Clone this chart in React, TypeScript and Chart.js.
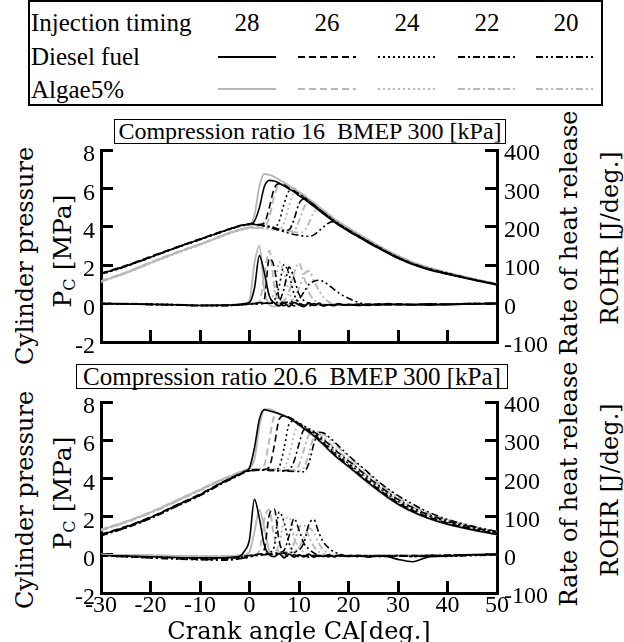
import React, { useEffect, useRef } from "react";
import { Chart, registerables } from "chart.js";

Chart.register(...registerables);

// ---------- data ----------
const angles = [-30, -25, -20, -15, -10, -5, -3, -2, -1, 0, 1, 2, 3, 4, 5, 6, 7, 8, 9, 10, 11, 12, 13, 14, 15, 16, 17, 18, 19, 20, 22, 24, 26, 28, 30, 33, 36, 40, 45, 50];
const timings = ["28", "26", "24", "22", "20"];
const xTickValues = [-30, -20, -10, 0, 10, 20, 30, 40, 50];
const pressureTicks = [-2, 0, 2, 4, 6, 8];
const rohrTicks = [-100, 0, 100, 200, 300, 400];

// Compression ratio 16 : cylinder pressure [MPa]
const p16D28 = [1.55, 1.95, 2.42, 2.9, 3.35, 3.8, 3.97, 4.05, 4.1, 4.15, 4.3, 5.0, 6.1, 6.42, 6.38, 6.27, 6.12, 5.97, 5.82, 5.62, 5.46, 5.26, 5.06, 4.86, 4.66, 4.46, 4.27, 4.09, 3.93, 3.77, 3.47, 3.17, 2.89, 2.62, 2.36, 2.03, 1.78, 1.53, 1.24, 0.97];
const p16A28 = [1.15, 1.6, 2.12, 2.62, 3.08, 3.58, 3.76, 3.84, 3.9, 3.97, 4.6, 6.1, 6.75, 6.7, 6.6, 6.45, 6.3, 6.15, 6.0, 5.82, 5.65, 5.45, 5.25, 5.05, 4.85, 4.65, 4.45, 4.27, 4.1, 3.95, 3.63, 3.33, 3.03, 2.75, 2.5, 2.16, 1.9, 1.62, 1.3, 1.03];
const p16D26 = [1.58, 1.98, 2.45, 2.92, 3.37, 3.82, 3.98, 4.06, 4.11, 4.15, 4.15, 4.12, 4.2, 5.0, 6.0, 6.25, 6.18, 6.03, 5.88, 5.68, 5.52, 5.32, 5.12, 4.92, 4.72, 4.52, 4.32, 4.14, 3.98, 3.82, 3.52, 3.22, 2.94, 2.66, 2.4, 2.07, 1.82, 1.57, 1.27, 1.0];
const p16A26 = [1.18, 1.63, 2.15, 2.65, 3.1, 3.6, 3.78, 3.86, 3.92, 3.97, 3.97, 3.96, 3.98, 4.5, 5.6, 6.2, 6.2, 6.08, 5.92, 5.73, 5.57, 5.37, 5.17, 4.97, 4.77, 4.57, 4.38, 4.2, 4.04, 3.88, 3.58, 3.28, 3.0, 2.72, 2.46, 2.12, 1.87, 1.6, 1.29, 1.02];
const p16D24 = [1.52, 1.93, 2.4, 2.88, 3.33, 3.78, 3.95, 4.03, 4.08, 4.12, 4.13, 4.1, 4.06, 4.02, 3.97, 4.3, 5.2, 5.85, 5.88, 5.72, 5.55, 5.35, 5.14, 4.94, 4.74, 4.54, 4.34, 4.16, 4.0, 3.84, 3.54, 3.24, 2.96, 2.68, 2.42, 2.09, 1.84, 1.58, 1.28, 1.01];
const p16A24 = [1.13, 1.58, 2.1, 2.6, 3.06, 3.56, 3.74, 3.82, 3.88, 3.94, 3.95, 3.94, 3.92, 3.9, 3.88, 3.86, 4.2, 5.1, 5.75, 5.72, 5.57, 5.38, 5.18, 4.98, 4.78, 4.58, 4.39, 4.21, 4.05, 3.89, 3.59, 3.29, 3.0, 2.72, 2.46, 2.12, 1.87, 1.61, 1.3, 1.03];
const p16D22 = [1.56, 1.96, 2.43, 2.9, 3.35, 3.8, 3.96, 4.04, 4.09, 4.13, 4.13, 4.1, 4.06, 4.01, 3.95, 3.88, 3.82, 3.85, 4.4, 5.2, 5.45, 5.35, 5.15, 4.94, 4.73, 4.52, 4.32, 4.14, 3.98, 3.82, 3.52, 3.22, 2.94, 2.66, 2.4, 2.07, 1.82, 1.56, 1.27, 1.0];
const p16A22 = [1.16, 1.61, 2.13, 2.63, 3.09, 3.59, 3.77, 3.85, 3.91, 3.96, 3.97, 3.96, 3.94, 3.91, 3.87, 3.83, 3.79, 3.76, 3.8, 4.3, 5.0, 5.3, 5.15, 4.95, 4.76, 4.56, 4.37, 4.19, 4.03, 3.87, 3.57, 3.27, 2.98, 2.7, 2.44, 2.1, 1.85, 1.59, 1.29, 1.02];
const p16D20 = [1.54, 1.94, 2.41, 2.89, 3.34, 3.79, 3.96, 4.04, 4.09, 4.13, 4.12, 4.09, 4.04, 3.98, 3.9, 3.82, 3.74, 3.66, 3.6, 3.56, 3.52, 3.5, 3.58, 3.78, 4.0, 4.2, 4.27, 4.12, 3.97, 3.81, 3.5, 3.2, 2.92, 2.64, 2.38, 2.05, 1.8, 1.55, 1.25, 0.98];
const p16A20 = [1.14, 1.59, 2.11, 2.61, 3.07, 3.57, 3.75, 3.83, 3.89, 3.94, 3.95, 3.94, 3.92, 3.89, 3.85, 3.81, 3.77, 3.73, 3.72, 3.7, 3.78, 4.2, 4.75, 4.95, 4.8, 4.58, 4.38, 4.2, 4.03, 3.87, 3.57, 3.27, 2.98, 2.7, 2.44, 2.1, 1.85, 1.59, 1.29, 1.02];

// Compression ratio 16 : rate of heat release [J/deg.]
const r16D28 = [0, -1, -2, -3, -5, -4, -3, -2, 0, 3, 40, 125, 80, 20, 2, -6, 2, -8, 3, -3, -8, 2, -5, 0, -6, -3, -5, 0, -4, -2, -5, -2, -4, 0, -3, -2, -4, -2, -1, 0];
const r16A28 = [1, 0, -1, -3, -4, -5, -3, -2, 0, 8, 105, 150, 35, -2, -8, -3, 3, -5, 2, -4, -6, 0, -3, 2, -5, -2, -6, -1, -3, -4, -2, -5, -1, -3, -2, -4, -1, -2, 0, 0];
const r16D26 = [0, -1, -2, -3, -5, -5, -4, -3, -2, -1, 0, 2, 12, 118, 95, 12, -5, 2, -6, 0, -4, -7, 0, -3, -5, -2, -4, -1, -3, -5, -2, -4, -1, -3, -2, -3, -1, -2, 0, 0];
const r16A26 = [1, 0, -2, -3, -4, -4, -3, -2, -2, -1, 0, 5, 75, 138, 45, 0, -6, -2, 3, -4, -6, 1, -3, -4, -2, -5, -1, -3, -4, -2, -3, -1, -4, -2, -3, -1, -2, -1, 0, 0];
const r16D24 = [0, -1, -2, -3, -5, -5, -4, -3, -2, -1, 0, 0, 1, 2, 8, 45, 102, 75, 25, 3, -4, -2, -6, 1, -4, -3, -5, -2, -3, -4, -2, -3, -1, -3, -2, -3, -1, -2, 0, 0];
const r16A24 = [1, 0, -2, -3, -4, -4, -3, -2, -2, -1, 0, 0, 2, 4, 30, 108, 80, 30, 5, -3, -5, 0, -4, -2, -5, -3, -4, -1, -3, -2, -4, -2, -3, -1, -2, -3, -1, -2, 0, 0];
const r16D22 = [0, -1, -2, -4, -5, -5, -4, -3, -2, -1, 0, 0, 1, 1, 2, 6, 40, 95, 65, 25, 8, 0, -4, -2, -5, -3, -4, -2, -3, -4, -2, -3, -2, -3, -1, -3, -2, -2, -1, 0];
const r16A22 = [1, 0, -2, -3, -4, -4, -3, -3, -2, -1, 0, 0, 1, 1, 2, 3, 8, 30, 80, 105, 70, 30, 10, 2, -3, -2, -4, -3, -2, -4, -2, -3, -1, -3, -2, -2, -1, -2, 0, 0];
const r16D20 = [0, -1, -2, -3, -5, -5, -4, -3, -2, -1, 0, 0, 1, 1, 2, 3, 3, 4, 6, 12, 30, 50, 58, 61, 57, 48, 38, 28, 20, 14, 3, -2, -3, -1, -2, -3, -1, -2, 0, 0];
const r16A20 = [0, -1, -2, -3, -4, -4, -3, -3, -2, -1, 0, 0, 1, 1, 2, 2, 3, 6, 15, 40, 75, 85, 60, 35, 15, 5, -2, -3, -4, -2, -3, -2, -3, -1, -2, -3, -1, -2, 0, 0];

// Compression ratio 20.6 : cylinder pressure [MPa]
const p20D28 = [1.05, 1.45, 1.95, 2.55, 3.15, 3.85, 4.1, 4.22, 4.35, 4.55, 5.6, 7.1, 7.6, 7.54, 7.46, 7.38, 7.28, 7.16, 7.0, 6.8, 6.62, 6.43, 6.23, 6.0, 5.76, 5.5, 5.26, 5.03, 4.83, 4.63, 4.2, 3.78, 3.38, 3.0, 2.66, 2.25, 1.93, 1.6, 1.31, 1.06];
const p20A28 = [1.3, 1.72, 2.22, 2.8, 3.4, 4.0, 4.2, 4.32, 4.42, 4.55, 5.0, 6.7, 7.6, 7.62, 7.52, 7.38, 7.27, 7.14, 6.98, 6.78, 6.6, 6.4, 6.2, 5.97, 5.73, 5.47, 5.23, 5.0, 4.8, 4.6, 4.17, 3.75, 3.35, 2.97, 2.63, 2.22, 1.91, 1.59, 1.3, 1.05];
const p20D26 = [1.08, 1.48, 1.98, 2.58, 3.18, 3.87, 4.12, 4.24, 4.36, 4.43, 4.45, 4.46, 4.46, 4.6, 5.7, 7.1, 7.28, 7.2, 7.06, 6.87, 6.69, 6.5, 6.3, 6.07, 5.83, 5.57, 5.33, 5.1, 4.9, 4.7, 4.27, 3.85, 3.45, 3.07, 2.73, 2.32, 1.99, 1.66, 1.35, 1.1];
const p20A26 = [1.32, 1.74, 2.24, 2.82, 3.42, 4.02, 4.22, 4.33, 4.43, 4.5, 4.5, 4.5, 4.7, 6.0, 7.25, 7.35, 7.28, 7.18, 7.03, 6.84, 6.66, 6.47, 6.27, 6.04, 5.8, 5.54, 5.3, 5.07, 4.87, 4.67, 4.24, 3.82, 3.42, 3.04, 2.7, 2.29, 1.97, 1.64, 1.34, 1.09];
const p20D24 = [1.03, 1.43, 1.93, 2.53, 3.13, 3.83, 4.08, 4.2, 4.33, 4.41, 4.44, 4.45, 4.45, 4.45, 4.44, 4.6, 5.6, 6.85, 7.0, 6.9, 6.74, 6.56, 6.37, 6.15, 5.92, 5.66, 5.42, 5.19, 4.99, 4.79, 4.36, 3.94, 3.54, 3.15, 2.8, 2.38, 2.05, 1.71, 1.4, 1.14];
const p20A24 = [1.28, 1.7, 2.2, 2.78, 3.38, 3.98, 4.19, 4.31, 4.41, 4.49, 4.5, 4.5, 4.49, 4.48, 4.47, 4.46, 4.55, 5.2, 6.3, 6.85, 6.75, 6.57, 6.38, 6.16, 5.93, 5.68, 5.44, 5.21, 5.01, 4.81, 4.38, 3.96, 3.56, 3.17, 2.82, 2.4, 2.07, 1.73, 1.41, 1.15];
const p20D22 = [1.0, 1.4, 1.9, 2.5, 3.1, 3.8, 4.05, 4.18, 4.31, 4.39, 4.42, 4.43, 4.43, 4.42, 4.41, 4.4, 4.4, 4.45, 4.9, 5.8, 6.55, 6.6, 6.45, 6.25, 6.04, 5.8, 5.56, 5.33, 5.12, 4.92, 4.5, 4.06, 3.65, 3.26, 2.9, 2.47, 2.12, 1.77, 1.44, 1.17];
const p20A22 = [1.27, 1.69, 2.19, 2.77, 3.37, 3.97, 4.18, 4.3, 4.4, 4.48, 4.49, 4.49, 4.48, 4.47, 4.46, 4.45, 4.44, 4.43, 4.42, 4.7, 5.5, 6.3, 6.5, 6.35, 6.12, 5.88, 5.64, 5.4, 5.19, 4.98, 4.55, 4.11, 3.7, 3.3, 2.94, 2.5, 2.15, 1.8, 1.47, 1.19];
const p20D20 = [1.02, 1.42, 1.92, 2.52, 3.12, 3.82, 4.07, 4.2, 4.32, 4.4, 4.42, 4.43, 4.43, 4.42, 4.41, 4.4, 4.39, 4.38, 4.37, 4.36, 4.35, 4.8, 5.8, 6.42, 6.38, 6.18, 5.95, 5.7, 5.45, 5.2, 4.75, 4.3, 3.85, 3.45, 3.1, 2.65, 2.25, 1.85, 1.5, 1.22];
const p20A20 = [1.29, 1.71, 2.21, 2.79, 3.39, 3.99, 4.19, 4.31, 4.41, 4.49, 4.5, 4.49, 4.48, 4.47, 4.46, 4.45, 4.44, 4.43, 4.41, 4.4, 4.55, 5.3, 6.2, 6.45, 6.3, 6.08, 5.85, 5.6, 5.38, 5.16, 4.7, 4.25, 3.8, 3.4, 3.03, 2.58, 2.2, 1.83, 1.49, 1.21];

// Compression ratio 20.6 : rate of heat release [J/deg.]
const r20D28 = [-2, -3, -5, -7, -8, -8, -6, -4, 10, 40, 145, 95, 25, 0, -5, 3, -8, 2, -6, 0, -5, 2, -6, -2, -4, 0, -5, -2, -3, -4, -2, -6, -3, -5, -12, -18, -6, -3, 0, 2];
const r20A28 = [0, -1, -2, -3, -4, -4, -3, -2, 0, 8, 60, 118, 70, 10, -4, 2, -5, 1, -4, -1, -3, 0, -4, -2, -3, -1, -4, -2, -1, -3, -2, -4, -1, -3, -2, -3, -1, -2, 0, 0];
const r20D26 = [-2, -4, -6, -8, -10, -10, -8, -6, -4, -2, 0, 2, 15, 105, 120, 35, 5, -4, 0, -5, -2, -6, -1, -4, -2, -5, -3, -1, -4, -2, -3, -4, -2, -5, -3, -2, -4, -1, 0, 0];
const r20A26 = [0, -1, -2, -3, -4, -4, -3, -2, -2, -1, 0, 10, 95, 118, 45, 5, -4, 1, -3, -2, -4, 0, -3, -1, -4, -2, -3, -1, -2, -3, -1, -3, -2, -1, -3, -2, -1, -2, 0, 0];
const r20D24 = [-2, -4, -6, -8, -10, -10, -8, -6, -4, -2, 0, 1, 3, 6, 22, 112, 85, 30, 8, -3, -5, 0, -4, -2, -5, -1, -3, -4, -2, -3, -5, -2, -4, -3, -2, -4, -1, -3, 0, 0];
const r20A24 = [0, -1, -2, -3, -4, -4, -3, -2, -2, -1, 0, 1, 2, 4, 8, 25, 90, 98, 45, 18, 6, -2, -3, 0, -4, -2, -3, -1, -4, -2, -3, -1, -2, -3, -1, -2, -1, -2, 0, 0];
const r20D22 = [-3, -5, -8, -10, -12, -13, -12, -10, -8, -5, -2, 0, 1, 2, 4, 6, 12, 50, 95, 65, 30, 15, 5, -2, -4, -1, -5, -3, -2, -4, -3, -2, -5, -2, -3, -4, -2, -1, 0, 0];
const r20A22 = [0, -1, -2, -3, -4, -4, -3, -3, -2, -1, 0, 0, 1, 2, 3, 4, 6, 12, 30, 70, 78, 48, 22, 8, 2, -3, -2, -4, -1, -3, -2, -4, -1, -3, -2, -1, -3, -1, 0, 0];
const r20D20 = [-3, -5, -8, -11, -13, -14, -12, -10, -8, -6, -3, -1, 0, 1, 2, 3, 4, 5, 8, 12, 32, 80, 92, 58, 32, 18, 8, 3, -2, -4, -2, -5, -3, -4, -2, -5, -3, -4, -2, 0];
const r20A20 = [0, -1, -2, -3, -4, -4, -3, -3, -2, -1, 0, 0, 1, 2, 2, 3, 4, 6, 10, 18, 45, 70, 58, 30, 12, 4, -2, -3, -1, -4, -2, -3, -1, -2, -3, -1, -2, -1, 0, 0];

// ---------- styles ----------
const DIESEL = "#000000";
const ALGAE = "#b8b8b8";
const DASHES: number[][] = [[], [7, 4], [2, 3], [7, 3, 2, 3], [7, 3, 2, 3, 2, 3]];
const SERIF = "'Liberation Serif', 'Times New Roman', serif";
const WIDE_SERIF = "'DejaVu Serif', serif";
const TICK_LEN = 12;

function series(values: number[]) {
  return angles.map((a, k) => ({ x: a, y: values[k] }));
}

function buildDatasets(pD: number[][], pA: number[][], rD: number[][], rA: number[][]) {
  const ds: any[] = [];
  timings.forEach((t, i) => {
    ds.push({ label: `Diesel ${t} P`, data: series(pD[i]), yAxisID: "y", borderColor: DIESEL, borderDash: DASHES[i], borderWidth: 1.6 });
    ds.push({ label: `Diesel ${t} ROHR`, data: series(rD[i]), yAxisID: "y1", borderColor: DIESEL, borderDash: DASHES[i], borderWidth: 1.6 });
  });
  timings.forEach((t, i) => {
    ds.push({ label: `Algae ${t} P`, data: series(pA[i]), yAxisID: "y", borderColor: ALGAE, borderDash: DASHES[i], borderWidth: 1.9 });
    ds.push({ label: `Algae ${t} ROHR`, data: series(rA[i]), yAxisID: "y1", borderColor: ALGAE, borderDash: DASHES[i], borderWidth: 1.9 });
  });
  return ds;
}

// inward tick marks: negative tick length, no grid lines in the plot
const inwardGrid = {
  display: true,
  drawOnChartArea: false,
  drawTicks: true,
  tickLength: -TICK_LEN,
  tickWidth: 3,
  tickColor: "#000",
  color: "#000",
  lineWidth: 3,
};

function makeConfig(datasets: any[], showX: boolean, xHeight: number): any {
  const tickFont = { family: SERIF, size: 24 };
  const fixY = (w: number) => (s: any) => {
    s.width = w;
    s.paddingTop = 0;
    s.paddingBottom = 0;
  };
  return {
    type: "line",
    data: { datasets },
    options: {
      animation: false,
      responsive: false,
      maintainAspectRatio: false,
      events: [],
      layout: { padding: { top: 20, left: 0, right: 0, bottom: 0 } },
      plugins: { legend: { display: false }, tooltip: { enabled: false }, title: { display: false } },
      elements: { point: { radius: 0 }, line: { tension: 0, fill: false, cubicInterpolationMode: "monotone" } },
      scales: {
        x: {
          type: "linear",
          min: -30,
          max: 50,
          afterBuildTicks: (s: any) => { s.ticks = xTickValues.map((v) => ({ value: v })); },
          ticks: { display: showX, color: "#000", font: tickFont, padding: TICK_LEN - 2, maxRotation: 0, autoSkip: false },
          grid: inwardGrid,
          border: { display: true, color: "#000", width: 3 },
          afterFit: (s: any) => {
            s.height = xHeight;
            s.paddingLeft = 0;
            s.paddingRight = 0;
          },
        },
        y: {
          position: "left",
          min: -2,
          max: 8,
          afterBuildTicks: (s: any) => { s.ticks = pressureTicks.map((v) => ({ value: v })); },
          ticks: { color: "#000", font: tickFont, padding: TICK_LEN + 6, labelOffset: 5 },
          grid: inwardGrid,
          border: { display: true, color: "#000", width: 3 },
          afterFit: fixY(101),
        },
        y1: {
          position: "right",
          min: -100,
          max: 400,
          afterBuildTicks: (s: any) => { s.ticks = rohrTicks.map((v) => ({ value: v })); },
          ticks: { color: "#000", font: tickFont, padding: TICK_LEN + 7, labelOffset: 4 },
          grid: inwardGrid,
          border: { display: true, color: "#000", width: 3 },
          afterFit: fixY(127),
        },
      },
    },
  };
}

function Abs({ x, y, size, family, center, children }: any) {
  return (
    <div
      style={{
        position: "absolute",
        left: x,
        top: y,
        transform: center ? "translate(-50%, -50%)" : "translateY(-50%)",
        fontSize: size,
        fontFamily: family,
        lineHeight: 1,
        whiteSpace: "pre",
        color: "#000",
      }}
    >
      {children}
    </div>
  );
}

function VText({ x, y, size, family, children }: any) {
  return (
    <div
      style={{
        position: "absolute",
        left: x,
        top: y,
        transform: "translate(-50%, -50%) rotate(-90deg)",
        fontSize: size,
        fontFamily: family,
        lineHeight: 1,
        whiteSpace: "pre",
        color: "#000",
      }}
    >
      {children}
    </div>
  );
}

const legendCols = [
  [218, 276],
  [298, 356],
  [378, 436],
  [458, 516],
  [536, 596],
];

export default function App() {
  const topRef = useRef<HTMLCanvasElement>(null);
  const botRef = useRef<HTMLCanvasElement>(null);

  useEffect(() => {
    const top = new Chart(
      topRef.current as HTMLCanvasElement,
      makeConfig(
        buildDatasets(
          [p16D28, p16D26, p16D24, p16D22, p16D20],
          [p16A28, p16A26, p16A24, p16A22, p16A20],
          [r16D28, r16D26, r16D24, r16D22, r16D20],
          [r16A28, r16A26, r16A24, r16A22, r16A20]
        ),
        false,
        22
      )
    );
    const bottom = new Chart(
      botRef.current as HTMLCanvasElement,
      makeConfig(
        buildDatasets(
          [p20D28, p20D26, p20D24, p20D22, p20D20],
          [p20A28, p20A26, p20A24, p20A22, p20A20],
          [r20D28, r20D26, r20D24, r20D22, r20D20],
          [r20A28, r20A26, r20A24, r20A22, r20A20]
        ),
        true,
        49
      )
    );
    return () => {
      top.destroy();
      bottom.destroy();
    };
  }, []);

  return (
    <div style={{ position: "absolute", left: 0, top: 0, width: 624, height: 642, background: "#fff", overflow: "hidden" }}>
      {/* legend table */}
      <div style={{ position: "absolute", left: 28, top: 0, width: 575, height: 106, border: "2px solid #000", boxSizing: "border-box" }} />
      <Abs x={31} y={22} size={25} family={SERIF}>Injection timing</Abs>
      <Abs x={31} y={56} size={25} family={SERIF}>Diesel fuel</Abs>
      <Abs x={31} y={89} size={25} family={SERIF}>Algae5%</Abs>
      {timings.map((t, i) => (
        <Abs key={t} x={(legendCols[i][0] + legendCols[i][1]) / 2} y={22} size={25} family={SERIF} center>
          {t}
        </Abs>
      ))}
      <svg width={624} height={106} style={{ position: "absolute", left: 0, top: 0 }}>
        {legendCols.map((c, i) => (
          <line key={"d" + i} x1={c[0]} x2={c[1]} y1={57} y2={57} stroke={DIESEL} strokeWidth={2} strokeDasharray={DASHES[i].join(" ")} />
        ))}
        {legendCols.map((c, i) => (
          <line key={"a" + i} x1={c[0]} x2={c[1]} y1={89} y2={89} stroke={ALGAE} strokeWidth={1.8} strokeDasharray={DASHES[i].join(" ")} />
        ))}
      </svg>

      {/* panel titles */}
      <div style={{ position: "absolute", left: 114, top: 119, width: 392, height: 25, border: "1.5px solid #000", boxSizing: "border-box" }} />
      <Abs x={310} y={131} size={24} family={SERIF} center>{"Compression ratio 16  BMEP 300 [kPa]"}</Abs>
      <div style={{ position: "absolute", left: 76, top: 364, width: 432, height: 25, border: "1.5px solid #000", boxSizing: "border-box" }} />
      <Abs x={292} y={376} size={25} family={SERIF} center>{"Compression ratio 20.6  BMEP 300 [kPa]"}</Abs>

      {/* axis titles */}
      <VText x={25} y={256} size={24} family={WIDE_SERIF}>Cylinder pressure</VText>
      <VText x={64} y={251} size={25} family={WIDE_SERIF}>
        P<sub style={{ fontSize: "0.65em", verticalAlign: "-0.25em" }}>C</sub> [MPa]
      </VText>
      <VText x={569} y={233} size={24} family={WIDE_SERIF}>Rate of heat release</VText>
      <VText x={610} y={238} size={24} family={WIDE_SERIF}>ROHR [J/deg.]</VText>

      <VText x={25} y={500} size={24} family={WIDE_SERIF}>Cylinder pressure</VText>
      <VText x={64} y={493} size={25} family={WIDE_SERIF}>
        P<sub style={{ fontSize: "0.65em", verticalAlign: "-0.25em" }}>C</sub> [MPa]
      </VText>
      <VText x={569} y={484} size={24} family={WIDE_SERIF}>Rate of heat release</VText>
      <VText x={610} y={490} size={24} family={WIDE_SERIF}>ROHR [J/deg.]</VText>

      <canvas ref={topRef} width={624} height={234} style={{ position: "absolute", left: 0, top: 130, width: 624, height: 234 }} />
      <canvas ref={botRef} width={624} height={260} style={{ position: "absolute", left: 0, top: 382, width: 624, height: 260 }} />

      <Abs x={299} y={631} size={24} family={WIDE_SERIF} center>Crank angle CA[deg.]</Abs>
    </div>
  );
}
